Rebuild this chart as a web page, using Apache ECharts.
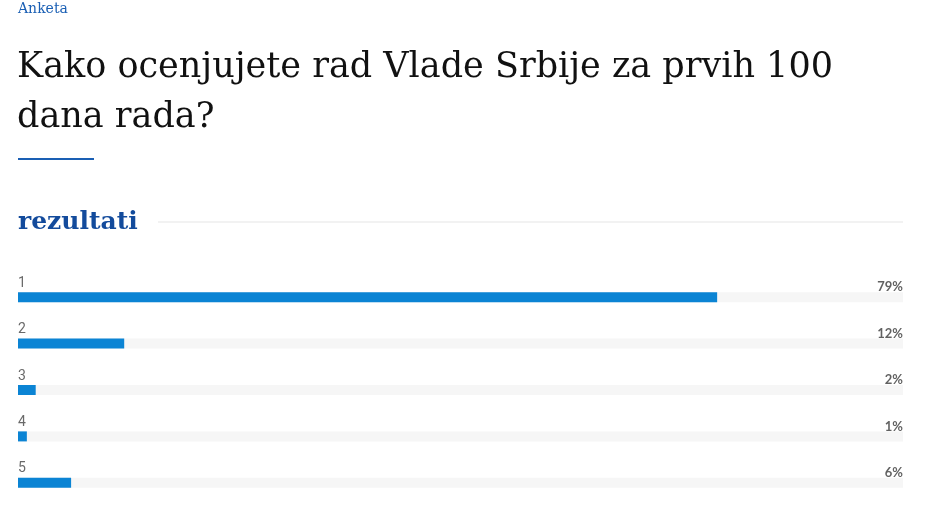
<!DOCTYPE html>
<html><head><meta charset="utf-8">
<script src="https://cdn.jsdelivr.net/npm/echarts@6/dist/echarts.min.js"></script>
<style>html,body{margin:0;padding:0;background:#fff}#c{width:925px;height:521px}</style>
</head><body><div id="c"></div>
<script>
const categories = ['1','2','3','4','5'];
const percents = [79, 12, 2, 1, 6];
const kicker = 'Anketa';
const titleLine1 = 'Kako ocenjujete rad Vlade Srbije za prvih 100';
const titleLine2 = 'dana rada?';
const sectionTitle = 'rezultati';

const chart = echarts.init(document.getElementById('c'));
const serif = '"DejaVu Serif", serif';
chart.setOption({
  backgroundColor: '#fff',
  animation: false,
  title: [
    {text: kicker, left: 18, top: 2, padding: 0, textStyle: {fontFamily: serif, fontSize: 14, fontWeight: 'normal', color: '#1a5fb4'}},
    {text: titleLine1 + '\n' + titleLine2, left: 17, top: 43, padding: 0, textStyle: {fontFamily: serif, fontSize: 35, fontWeight: 'normal', color: '#111', lineHeight: 50}},
    {text: sectionTitle, left: 18, top: 210, padding: 0, textStyle: {fontFamily: serif, fontSize: 25, fontWeight: 'bold', color: '#134b9c'}}
  ],
  graphic: [
    {type: 'rect', shape: {x: 18, y: 158, width: 76, height: 2}, style: {fill: '#1a5fb4'}},
    {type: 'rect', shape: {x: 158, y: 221.5, width: 745, height: 1}, style: {fill: '#e6e6e6'}}
  ],
  grid: {left: 18, right: 22, top: 274, bottom: 15},
  xAxis: {type: 'value', min: 0, max: 100, show: false},
  yAxis: {type: 'category', data: categories, inverse: true, show: false},
  series: [
    {
      type: 'bar', data: percents, barWidth: 10,
      itemStyle: {color: '#0b84d4'},
      showBackground: true, backgroundStyle: {color: '#f6f6f6'}
    },
    {
      type: 'scatter', symbolSize: 0, silent: true,
      data: categories.map((c, i) => [0, c]),
      label: {show: true, position: 'right', distance: 0, offset: [0, -14], formatter: p => categories[p.dataIndex],
        fontFamily: 'Roboto', fontSize: 14, color: '#444'}
    },
    {
      type: 'scatter', symbolSize: 0, silent: true,
      data: categories.map((c, i) => [100, c]),
      label: {show: true, position: 'left', distance: 0, offset: [0, -10], formatter: p => percents[p.dataIndex] + '%',
        fontFamily: 'Lato', fontWeight: 'bold', fontSize: 13, color: '#3a3a3a'}
    }
  ]
});
</script></body></html>
